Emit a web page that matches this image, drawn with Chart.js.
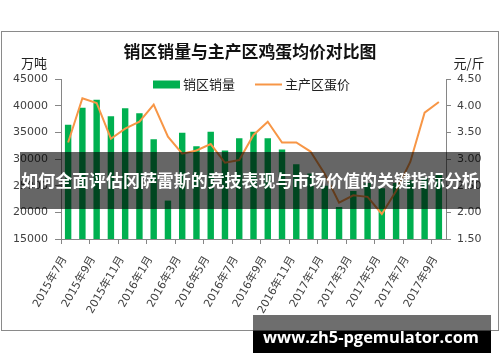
<!DOCTYPE html>
<html>
<head>
<meta charset="utf-8">
<script src="https://cdn.jsdelivr.net/npm/chart.js@4/dist/chart.umd.min.js"></script>
<style>
  html, body { margin: 0; padding: 0; background: #ffffff; }
  #wrap { width: 500px; height: 362px; position: relative; }
  canvas { display: block; }
</style>
</head>
<body>
<div id="wrap"><canvas id="c" width="500" height="362"></canvas></div>
<script>
// ---- data ----
const months = [
  '2015年7月','2015年8月','2015年9月','2015年10月','2015年11月','2015年12月',
  '2016年1月','2016年2月','2016年3月','2016年4月','2016年5月','2016年6月',
  '2016年7月','2016年8月','2016年9月','2016年10月','2016年11月','2016年12月',
  '2017年1月','2017年2月','2017年3月','2017年4月','2017年5月','2017年6月',
  '2017年7月','2017年8月','2017年9月'
];
const salesVolume = [
  36400, 39600, 41100, 38000, 39500, 38600,
  33700, 22200, 34900, 32400, 35100, 31600,
  33900, 35100, 33900, 31800, 29000, 27300,
  25000, 21000, 24000, 25500, 24500, 25500,
  26000, 26500, 27000
];
const eggPrice = [
  3.31, 4.14, 4.05, 3.38, 3.57, 3.70,
  4.02, 3.42, 3.10, 3.16, 3.28, 2.93,
  2.98, 3.45, 3.70, 3.31, 3.31, 3.14,
  2.72, 2.18, 2.32, 2.29, 1.97, 2.40,
  2.95, 3.87, 4.07
];
const seriesNames = ['销区销量', '主产区蛋价'];
const chartTitle = '销区销量与主产区鸡蛋均价对比图';
const leftUnit = '万吨';
const rightUnit = '元/斤';
const overlayText = '如何全面评估冈萨雷斯的竞技表现与市场价值的关键指标分析';
const bannerText = 'www.zh5-pgemulator.com';

// ---- styles ----
const GREEN = '#00B050';
const ORANGE = '#F79646';
const AXIS = '#868686';
const LABEL = '#404040';
const CJK = '"Noto Sans CJK SC", "Noto Sans", sans-serif';
const NUMF = '"DejaVu Sans", "Noto Sans CJK SC", sans-serif';

function fitFont(ctx, text, weight, family, targetWidth) {
  ctx.font = weight + ' 20px ' + family;
  const w = ctx.measureText(text).width;
  const size = 20 * targetWidth / w;
  ctx.font = weight + ' ' + size.toFixed(2) + 'px ' + family;
}

const decor = {
  id: 'decor',
  beforeDraw(chart) {
    const ctx = chart.ctx;
    ctx.save();
    ctx.fillStyle = '#ffffff';
    ctx.fillRect(0, 0, chart.width, chart.height);
    ctx.strokeStyle = '#8a8a8a';
    ctx.lineWidth = 1;
    ctx.strokeRect(1.5, 31.5, 497, 299);
    ctx.restore();
  },
  afterDraw(chart) {
    const ctx = chart.ctx;
    const ds = chart.data.datasets;
    ctx.save();
    // title
    ctx.fillStyle = '#111111';
    ctx.textAlign = 'center';
    ctx.textBaseline = 'middle';
    fitFont(ctx, chartTitle, 'bold', CJK, 253);
    ctx.fillText(chartTitle, 250, 52);
    // units
    ctx.font = '13px ' + CJK;
    ctx.fillStyle = '#222222';
    ctx.fillText(leftUnit, 34, 63);
    ctx.fillText(rightUnit, 469, 63);
    // legend
    ctx.textAlign = 'left';
    ctx.font = '13px ' + CJK;
    ctx.fillStyle = ds[0].backgroundColor;
    ctx.fillRect(153, 80.5, 27, 8);
    ctx.fillStyle = '#222222';
    ctx.fillText(ds[0].label, 183, 84.5);
    ctx.strokeStyle = ds[1].borderColor;
    ctx.lineWidth = 2;
    ctx.beginPath();
    ctx.moveTo(255, 84.5);
    ctx.lineTo(282, 84.5);
    ctx.stroke();
    ctx.fillStyle = '#222222';
    ctx.fillText(ds[1].label, 285, 84.5);
    // overlay band
    ctx.fillStyle = 'rgba(0,0,0,0.6)';
    ctx.fillRect(20, 152, 460, 57);
    ctx.fillStyle = '#ffffff';
    ctx.textAlign = 'center';
    fitFont(ctx, overlayText, 'bold', CJK, 458);
    ctx.fillText(overlayText, 250, 181);
    // bottom banner
    ctx.fillStyle = 'rgba(0,0,0,0.57)';
    ctx.fillRect(253, 315, 238, 16);
    ctx.fillStyle = '#000000';
    ctx.fillRect(253, 331, 238, 22);
    ctx.fillStyle = '#ffffff';
    fitFont(ctx, bannerText, 'bold', '"Open Sans", sans-serif', 216);
    ctx.textBaseline = 'alphabetic';
    ctx.fillText(bannerText, 371, 343);
    ctx.restore();
  }
};

new Chart(document.getElementById('c'), {
  data: {
    labels: months,
    datasets: [
      {
        type: 'bar',
        label: seriesNames[0],
        data: salesVolume,
        backgroundColor: GREEN,
        borderWidth: 0,
        barPercentage: 0.45,
        categoryPercentage: 1.0,
        yAxisID: 'y',
        order: 2
      },
      {
        type: 'line',
        label: seriesNames[1],
        data: eggPrice,
        borderColor: ORANGE,
        backgroundColor: ORANGE,
        borderWidth: 2,
        pointRadius: 0,
        tension: 0,
        fill: false,
        yAxisID: 'y1',
        order: 1
      }
    ]
  },
  options: {
    responsive: false,
    animation: false,
    devicePixelRatio: 1,
    layout: { padding: { top: 79, left: 0, right: 0, bottom: 0 } },
    plugins: {
      legend: { display: false },
      title: { display: false },
      tooltip: { enabled: false }
    },
    scales: {
      x: {
        type: 'category',
        offset: true,
        afterFit: s => { s.height = 123; },
        border: { display: true, color: AXIS, width: 1 },
        grid: {
          drawOnChartArea: false,
          drawTicks: true,
          tickLength: 5,
          offset: true,
          tickColor: c => (c.index % 2 === 0 ? AXIS : 'rgba(0,0,0,0)')
        },
        ticks: {
          autoSkip: false,
          maxRotation: 60,
          minRotation: 60,
          padding: 10,
          labelOffset: -3.5,
          color: LABEL,
          font: { family: NUMF, size: 11 },
          callback: (v, i) => (i % 2 === 0 ? months[i] : '')
        }
      },
      y: {
        position: 'left',
        min: 15000,
        max: 45000,
        afterFit: s => { s.width = 61; },
        border: { display: true, color: AXIS, width: 1 },
        grid: { drawOnChartArea: false, drawTicks: true, tickLength: 6, tickColor: AXIS },
        ticks: {
          stepSize: 5000,
          padding: 7,
          color: LABEL,
          font: { family: NUMF, size: 11 },
          callback: v => String(v)
        }
      },
      y1: {
        position: 'right',
        min: 1.5,
        max: 4.5,
        afterFit: s => { s.width = 54; },
        border: { display: true, color: AXIS, width: 1 },
        grid: { drawOnChartArea: false, drawTicks: true, tickLength: 5, tickColor: AXIS },
        ticks: {
          stepSize: 0.5,
          padding: 6,
          color: LABEL,
          font: { family: NUMF, size: 11 },
          callback: v => Number(v).toFixed(2)
        }
      }
    }
  },
  plugins: [decor]
});
</script>
</body>
</html>
